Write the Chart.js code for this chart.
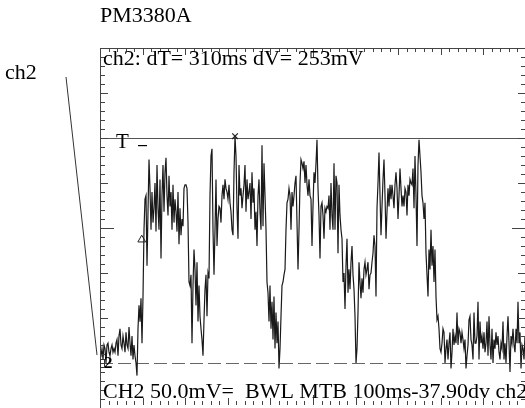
<!DOCTYPE html>
<html>
<head>
<meta charset="utf-8">
<script src="https://cdn.jsdelivr.net/npm/chart.js@4/dist/chart.umd.min.js"></script>
<style>
html, body { margin: 0; padding: 0; background: #fff; overflow: hidden; width: 525px; height: 408px; }
#scope { position: absolute; left: 0; top: 0; }
</style>
</head>
<body>
<canvas id="scope" width="540" height="420" style="width:540px;height:420px"></canvas>
<script>
// PM3380A screen dump: ch2, 50mV/div, MTB 100ms/div (10 x 8 divisions)
var timeSpanMs = 1000;
var voltMin = -50, voltMax = 350;
var triggerLevel = 250;

// ch2 record in mV, one sample per screen column
var ch2mV = [
  4,8,16,4,20,16,0,20,22,12, 8,16,20,12,16,12,22,26,8,30,
  38,20,16,30,22,12,34,20,16,40, 22,8,30,4,20,8,0,-14,38,64,
  46,72,22,74,148,182,186,108,168,226, 194,148,190,156,172,200,146,220,172,148,
  204,116,186,220,168,212,228,186,164,208, 174,190,148,198,156,182,168,146,190,132,
  172,142,160,152,194,198,198,194,156,90, 86,98,22,86,126,104,64,112,46,86,
  52,38,26,8,48,82,98,52,100,94, 186,230,238,148,98,148,204,130,160,174,
  172,156,186,198,182,204,194,190,182,198, 178,168,148,142,212,252,230,172,138,220,
  186,194,172,186,198,220,168,204,182,190, 200,160,212,178,194,148,168,130,186,204,
  168,148,242,152,222,186,148,90,78,46, 86,38,68,26,74,16,56,22,46,-6,
  16,52,86,90,98,104,148,178,182,194, 186,148,190,174,186,200,208,156,104,148,
  200,226,222,216,224,200,220,198,186,204, 186,
  182,130,174,212,200,222,248,194,164,116, 174,178,164,138,172,168,174,172,186,148,
  200,164,148,222,148,208,200,122,198,164, 148,138,90,100,60,108,138,78,104,82,
  112,130,98,82,52,0,16,56,112,90, 72,94,78,104,112,98,104,112,82,98,
  100,112,122,142,130,74,172,200,234,186, 142,174,204,226,186,138,168,194,174,198,
  182,198,186,172,198,212,194,160,186,216, 194,174,186,174,194,190,164,198,186,204,
  200,198,216,172,230,186,130,220,248,230, 212,186,178,160,178,122,98,74,126,104,
  148,108,130,90,126,74,48,52,38,16, 12,22,38,34,0,16,26,4,22,34,
  -6,12,38,20,30,22,56,20,38,34, 22,34,26,16,26,-6,8,20,48,52,
  26,20,4,56,22,22,30,68,4,46, 22,30,16,34,12,22,46,8,52,20,
  4,38,0,26,16,34,20,30,12,4, 22,16,46,4,22,0,30,52,22,-10,
  30,22,38,20,12,38,22,68,22,34, -6,20,16,4,30
];
var sampleMs = timeSpanMs / 426;

// cursor markers (ms, mV)
var cursorTriangle = [{ x: 98, y: 137 }];
var cursorCross = [{ x: 317, y: 252 }];

var titleText = 'PM3380A';
var readoutTop = 'ch2: dT= 310ms dV= 253mV';
var readoutBottom = 'CH2 50.0mV=  BWL MTB 100ms-37.90dv ch2';

var trace = ch2mV.map(function (v, i) { return { x: i * sampleMs, y: v }; });

var serif = '"Liberation Serif", "Times New Roman", serif';

var scopeDecor = {
  id: 'scopeDecor',
  beforeDatasetsDraw: function (chart) {
    var ctx = chart.ctx, a = chart.chartArea, ys = chart.scales.y;
    ctx.save();
    // trigger level
    var yT = Math.round(ys.getPixelForValue(triggerLevel)) + 0.5;
    ctx.strokeStyle = '#555';
    ctx.lineWidth = 1;
    ctx.beginPath(); ctx.moveTo(a.left, yT); ctx.lineTo(a.right, yT); ctx.stroke();
    // ground reference
    var y0 = Math.round(ys.getPixelForValue(0)) + 0.5;
    ctx.setLineDash([13, 5]);
    ctx.strokeStyle = '#666';
    ctx.beginPath(); ctx.moveTo(a.left, y0); ctx.lineTo(a.right, y0); ctx.stroke();
    ctx.restore();
  },
  afterDraw: function (chart) {
    var ctx = chart.ctx, a = chart.chartArea, xs = chart.scales.x, ys = chart.scales.y;
    ctx.save();
    ctx.strokeStyle = '#444';
    ctx.lineWidth = 1;
    // frame
    ctx.beginPath();
    ctx.moveTo(a.left + 0.5, a.bottom); ctx.lineTo(a.left + 0.5, a.top + 0.5);
    ctx.lineTo(a.right, a.top + 0.5); ctx.lineTo(a.right - 0.5, a.bottom);
    ctx.stroke();
    // graticule ticks
    ctx.beginPath();
    for (var t = 0; t <= timeSpanMs; t += 20) {
      var px = Math.round(xs.getPixelForValue(t)) + 0.5;
      var len = t % 100 === 0 ? 7 : 4;
      if (t === 500) len = 10;
      ctx.moveTo(px, a.top); ctx.lineTo(px, a.top + len);
      ctx.moveTo(px, a.bottom - 3); ctx.lineTo(px, a.bottom - 3 - len);
    }
    for (var v = voltMin; v <= voltMax; v += 10) {
      var py = Math.round(ys.getPixelForValue(v)) + 0.5;
      var l2 = v % 50 === 0 ? 8 : 5;
      if (v === 150) l2 = 14;
      ctx.moveTo(a.left, py); ctx.lineTo(a.left + l2, py);
      ctx.moveTo(a.right, py); ctx.lineTo(a.right - l2, py);
    }
    ctx.stroke();

    // texts
    ctx.fillStyle = '#000';
    ctx.textBaseline = 'alphabetic';
    ctx.font = '22px ' + serif;
    ctx.fillText(titleText, 100, 22);
    ctx.fillText('ch2', 5, 79);
    ctx.fillText(readoutTop, 103, 65);
    ctx.fillText(readoutBottom, 103, 398);
    ctx.font = '21px ' + serif;
    ctx.fillText('T', 116, 148);
    ctx.fillRect(138, 145, 9, 1.2);
    ctx.font = 'bold 17px ' + serif;
    ctx.fillText('2', 104, 368);
    ctx.strokeStyle = '#333';
    ctx.strokeRect(100.5, 359.5, 4, 8);

    // channel pointer
    ctx.beginPath();
    ctx.strokeStyle = '#333';
    ctx.moveTo(66, 77); ctx.lineTo(97, 355);
    ctx.stroke();
    ctx.restore();
  }
};

new Chart(document.getElementById('scope').getContext('2d'), {
  type: 'line',
  data: {
    datasets: [
      {
        label: 'ch2',
        data: trace,
        borderColor: '#1a1a1a',
        borderWidth: 1.2,
        pointRadius: 0,
        tension: 0
      },
      {
        type: 'scatter',
        label: 'cursor 1',
        data: cursorTriangle,
        pointStyle: 'triangle',
        pointRadius: 4.5,
        borderColor: '#222',
        borderWidth: 1,
        backgroundColor: '#fff'
      },
      {
        type: 'scatter',
        label: 'cursor 2',
        data: cursorCross,
        pointStyle: 'crossRot',
        pointRadius: 4,
        borderColor: '#222',
        borderWidth: 1.2
      }
    ]
  },
  options: {
    responsive: false,
    animation: false,
    devicePixelRatio: 1,
    layout: { padding: { left: 100, top: 48, right: 14, bottom: 12 } },
    plugins: { legend: { display: false }, tooltip: { enabled: false } },
    scales: {
      x: { type: 'linear', min: 0, max: timeSpanMs, display: false },
      y: { type: 'linear', min: voltMin, max: voltMax, display: false }
    }
  },
  plugins: [scopeDecor]
});
</script>
</body>
</html>
